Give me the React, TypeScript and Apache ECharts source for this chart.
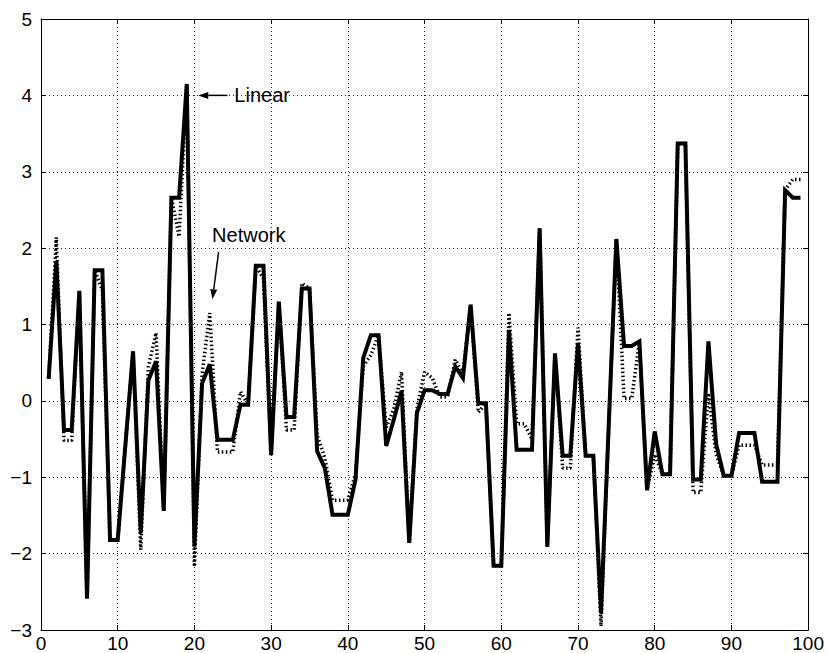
import React, { useEffect, useRef } from "react";
import * as echarts from "echarts";

const xValues: number[] = Array.from({ length: 99 }, (_, i) => i + 1);

const linear: number[] = [
  0.29, 1.83, -0.38, -0.38, 1.44, -2.59, 1.71, 1.71, -1.82, -1.82,
  -0.58, 0.65, -1.73, 0.27, 0.52, -1.44, 2.66, 2.66, 4.15, -1.91,
  0.23, 0.48, -0.51, -0.51, -0.51, -0.05, -0.05, 1.77, 1.77, -0.71,
  1.3, -0.21, -0.21, 1.47, 1.47, -0.66, -0.88, -1.49, -1.49, -1.49,
  -1.03, 0.56, 0.86, 0.86, -0.59, -0.24, 0.13, -1.86, -0.16, 0.14,
  0.14, 0.09, 0.09, 0.45, 0.3, 1.26, -0.03, -0.03, -2.16, -2.16,
  0.93, -0.64, -0.64, -0.64, 2.26, -1.91, 0.62, -0.72, -0.72, 0.76,
  -0.72, -0.72, -2.78, -0.33, 2.12, 0.72, 0.72, 0.78, -1.17, -0.4,
  -0.96, -0.96, 3.37, 3.37, -1.03, -1.03, 0.78, -0.56, -0.98, -0.98,
  -0.42, -0.42, -0.42, -1.06, -1.06, -1.06, 2.76, 2.66, 2.66,
];

const network: number[] = [
  0.29, 2.14, -0.52, -0.52, 1.44, -2.59, 1.71, 1.45, -1.82, -1.82,
  -0.58, 0.65, -1.95, 0.45, 0.89, -1.44, 2.66, 2.15, 4.15, -2.17,
  0.35, 1.15, -0.67, -0.67, -0.67, 0.12, -0.05, 1.77, 1.6, -0.71,
  1.3, -0.38, -0.38, 1.54, 1.47, -0.45, -0.75, -1.3, -1.3, -1.3,
  -0.95, 0.45, 0.6, 0.86, -0.35, -0.1, 0.38, -1.86, -0.1, 0.38,
  0.3, 0.05, 0.05, 0.54, 0.35, 1.26, -0.15, -0.03, -2.16, -2.16,
  1.15, -0.3, -0.3, -0.5, 2.26, -1.91, 0.62, -0.88, -0.88, 0.96,
  -0.72, -0.72, -2.95, -0.33, 2.12, 0.03, 0.03, 0.78, -1.17, -0.7,
  -0.96, -0.96, 3.37, 3.37, -1.2, -1.2, 0.1, -0.7, -0.98, -0.98,
  -0.58, -0.58, -0.58, -0.84, -0.84, -0.84, 2.76, 2.9, 2.9,
];

const xTicks = { min: 0, max: 100, interval: 10 };
const yTicks = { min: -3, max: 5, interval: 1 };

const linearLabel = { text: "Linear", x: 25.2, y: 4.0, arrowFrom: [24.3, 4.0], arrowTo: [20.5, 4.0] };
const networkLabel = { text: "Network", x: 22.3, y: 2.17, arrowFrom: [23.15, 1.95], arrowTo: [22.35, 1.33] };

const FONT = "'Liberation Sans', Arial, Helvetica, sans-serif";

function arrowGraphics(chart: any, from: number[], to: number[]) {
  const p0 = chart.convertToPixel({ gridIndex: 0 }, from);
  const p1 = chart.convertToPixel({ gridIndex: 0 }, to);
  const dx = p1[0] - p0[0];
  const dy = p1[1] - p0[1];
  const len = Math.sqrt(dx * dx + dy * dy);
  const ux = dx / len;
  const uy = dy / len;
  const headLen = 10;
  const headW = 3.5;
  const bx = p1[0] - ux * headLen;
  const by = p1[1] - uy * headLen;
  return [
    {
      type: "line",
      shape: { x1: p0[0], y1: p0[1], x2: bx, y2: by },
      style: { stroke: "#000", lineWidth: 1.5 },
      z: 100,
    },
    {
      type: "polygon",
      shape: {
        points: [
          [p1[0], p1[1]],
          [bx - uy * headW, by + ux * headW],
          [bx + uy * headW, by - ux * headW],
        ],
      },
      style: { fill: "#000" },
      z: 100,
    },
  ];
}

export default function App() {
  const ref = useRef<HTMLDivElement>(null);
  useEffect(() => {
    document.body.style.margin = "0";
    const chart = echarts.init(ref.current!, null, { renderer: "svg" });
    const axisCommon = {
      type: "value",
      axisLine: { show: true, onZero: false, lineStyle: { color: "#000", width: 1 } },
      axisTick: { show: true, inside: true, length: 5, lineStyle: { color: "#000", width: 1 } },
    };
    chart.setOption({
      animation: false,
      backgroundColor: "#fff",
      grid: { left: 41, right: 11, top: 19, bottom: 23, containLabel: false },
      xAxis: [
        {
          ...axisCommon,
          position: "bottom",
          ...xTicks,
          axisLabel: { color: "#000", fontSize: 19, fontFamily: FONT, margin: 4 },
          splitLine: { show: true, lineStyle: { color: "#222", width: 1, type: [1, 3] } },
        },
        {
          ...axisCommon,
          position: "top",
          ...xTicks,
          axisLabel: { show: false },
          splitLine: { show: false },
        },
      ],
      yAxis: [
        {
          ...axisCommon,
          position: "left",
          ...yTicks,
          axisLabel: {
            color: "#000",
            fontSize: 19,
            fontFamily: FONT,
            margin: 9,
            formatter: (v: number) => String(v).replace("-", "\u2212"),
          },
          splitLine: { show: true, lineStyle: { color: "#222", width: 1, type: [1, 3] } },
        },
        {
          ...axisCommon,
          position: "right",
          ...yTicks,
          axisLabel: { show: false },
          splitLine: { show: false },
        },
      ],
      series: [
        {
          name: "Network",
          type: "line",
          data: xValues.map((x, i) => [x, network[i]]),
          showSymbol: false,
          symbol: "none",
          lineStyle: { color: "#000", width: 3.5, type: [1.5, 2.5] },
          z: 2,
        },
        {
          name: "Linear",
          type: "line",
          data: xValues.map((x, i) => [x, linear[i]]),
          showSymbol: false,
          symbol: "none",
          lineStyle: { color: "#000", width: 4, join: "miter", cap: "butt" },
          z: 3,
        },
      ],
    });

    const lp = chart.convertToPixel({ gridIndex: 0 }, [linearLabel.x, linearLabel.y]);
    const np = chart.convertToPixel({ gridIndex: 0 }, [networkLabel.x, networkLabel.y]);
    chart.setOption({
      graphic: [
        {
          type: "text",
          x: lp[0],
          y: lp[1],
          style: { text: linearLabel.text, fill: "#000", font: `20px ${FONT}`, verticalAlign: "middle", align: "left" },
          z: 100,
        },
        {
          type: "text",
          x: np[0],
          y: np[1],
          style: { text: networkLabel.text, fill: "#000", font: `20px ${FONT}`, verticalAlign: "middle", align: "left" },
          z: 100,
        },
        ...arrowGraphics(chart, linearLabel.arrowFrom, linearLabel.arrowTo),
        ...arrowGraphics(chart, networkLabel.arrowFrom, networkLabel.arrowTo),
      ],
    });
    return () => chart.dispose();
  }, []);
  return (
    <div
      ref={ref}
      style={{ position: "fixed", left: 0, top: 0, width: 827, height: 653, background: "#fff" }}
    />
  );
}
